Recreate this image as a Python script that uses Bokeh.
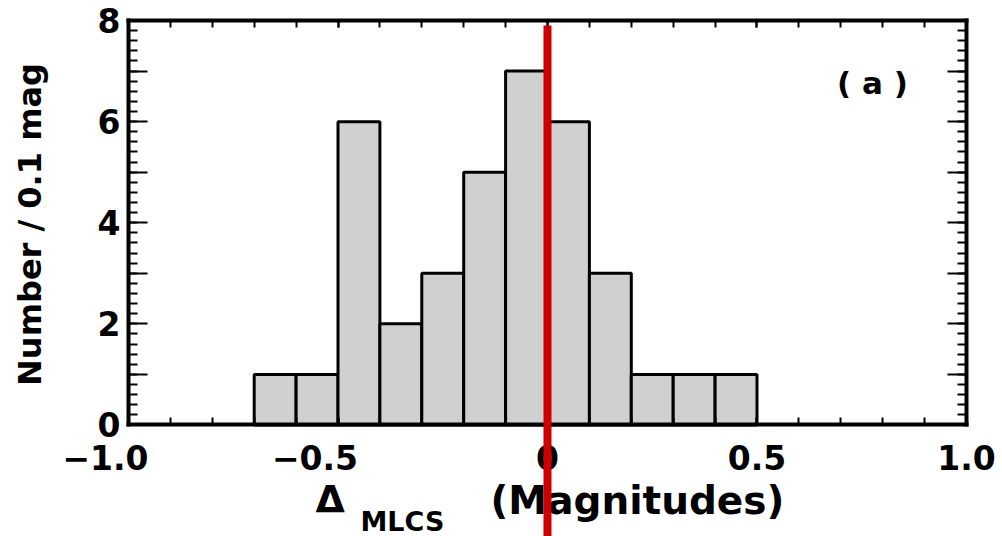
import math
from bokeh.plotting import figure
from bokeh.models import Range1d, LinearAxis, FixedTicker, Label
from bokeh.embed import file_html
from bokeh.resources import INLINE

# ---- data ----
bin_edges = [-0.7, -0.6, -0.5, -0.4, -0.3, -0.2, -0.1, 0.0, 0.1, 0.2, 0.3, 0.4, 0.5]
counts = [1, 1, 6, 2, 3, 5, 7, 6, 3, 1, 1, 1]
ref_x = 0.0

x_ticks = [-1.0, -0.5, 0.0, 0.5, 1.0]
x_tick_labels = ["\u22121.0\u2007\u2007", "\u22120.5\u2007\u2007", "0", "0.5", "1.0"]
y_ticks = [0, 1, 2, 3, 4, 5, 6, 7, 8]
y_tick_labels = ["0", "", "2", "", "4", "", "6", "", "8"]
y_title = "Number / 0.1 mag"
x_title_sym = "\u0394"
x_title_sub = "MLCS"
x_title_rest = "(Magnitudes)"
panel_label = "( a )"

x_lo, x_hi = -1.0, 1.0
y_lo, y_hi = 0, 8
x_minor = [round(-1.0 + 0.1 * i, 2) for i in range(21)]
y_minor = [round(0.2 * i, 2) for i in range(41)]

FONT = "DejaVu Sans"

# The frame covers the whole canvas; the axes sit at fixed data locations so that
# the red reference line and the axis title can run below the x axis.
p = figure(width=1002, height=536,
           x_range=Range1d(-1.30549, 1.08592), y_range=Range1d(-2.2053, 8.3956),
           output_backend="svg", toolbar_location=None,
           x_axis_location=None, y_axis_location=None,
           min_border_left=0, min_border_right=0, min_border_top=0, min_border_bottom=0)
p.background_fill_color = "white"
p.border_fill_color = "white"
p.outline_line_color = None
p.xgrid.visible = False
p.ygrid.visible = False

p.quad(left=bin_edges[:-1], right=bin_edges[1:], bottom=0, top=counts,
       fill_color="#d0d0d0", line_color="black", line_width=3)


def style(ax, major_in, minor_in, labels=True):
    ax.axis_line_color = "black"
    ax.axis_line_width = 4
    ax.axis_line_cap = "square"
    ax.major_tick_in = major_in
    ax.major_tick_out = 0
    ax.minor_tick_in = minor_in
    ax.minor_tick_out = 0
    ax.major_tick_line_width = 2
    ax.minor_tick_line_width = 2
    ax.major_tick_line_color = "black"
    ax.minor_tick_line_color = "black"
    if labels:
        ax.major_label_text_font = FONT
        ax.major_label_text_font_style = "bold"
        ax.major_label_text_font_size = "33px"
        ax.major_label_text_color = "black"
    else:
        ax.major_label_text_font_size = "1px"
        ax.major_label_text_color = None
        ax.major_label_standoff = 0


xa = LinearAxis(ticker=FixedTicker(ticks=x_ticks, minor_ticks=x_minor),
                fixed_location=y_lo, bounds=(x_lo, x_hi))
xa.major_label_overrides = {v: s for v, s in zip(x_ticks, x_tick_labels)}
style(xa, 7, 7)
xa.major_label_standoff = 14
p.add_layout(xa, "below")

ya = LinearAxis(ticker=FixedTicker(ticks=y_ticks, minor_ticks=y_minor),
                fixed_location=x_lo, bounds=(y_lo, y_hi))
ya.major_label_overrides = {v: s for v, s in zip(y_ticks, y_tick_labels)}
style(ya, 19, 9)
ya.major_label_standoff = 8
p.add_layout(ya, "left")

top_ax = LinearAxis(ticker=FixedTicker(ticks=x_ticks, minor_ticks=x_minor),
                    fixed_location=y_hi, bounds=(x_lo, x_hi))
style(top_ax, 7, 7, labels=False)
p.add_layout(top_ax, "above")

right_ax = LinearAxis(ticker=FixedTicker(ticks=y_ticks, minor_ticks=y_minor),
                      fixed_location=x_hi, bounds=(y_lo, y_hi))
style(right_ax, 19, 9, labels=False)
p.add_layout(right_ax, "right")

# y-axis title
p.add_layout(Label(x=-1.2339, y=3.966, text=y_title, angle=math.pi / 2,
                   text_font=FONT, text_font_style="bold", text_font_size="32px",
                   text_align="center", text_baseline="alphabetic", text_color="black"))

# x-axis title with subscript
p.add_layout(Label(x=-0.5537, y=-1.454, text=x_title_sym, text_font=FONT, text_font_style="bold",
                   text_font_size="38px", text_baseline="alphabetic", text_align="left",
                   text_color="black"))
p.add_layout(Label(x=-0.4463, y=-1.909, text=x_title_sub, text_font=FONT, text_font_style="bold",
                   text_font_size="27px", text_baseline="alphabetic", text_align="left",
                   text_color="black"))
p.add_layout(Label(x=-0.136, y=-1.493, text=x_title_rest, text_font=FONT, text_font_style="bold",
                   text_font_size="39px", text_baseline="alphabetic", text_align="left",
                   text_color="black"))

p.add_layout(Label(x=0.7757, y=6.755, text=panel_label, text_font=FONT, text_font_style="bold",
                   text_font_size="31px", text_baseline="alphabetic", text_align="center",
                   text_color="black"))

p.segment(x0=[ref_x], y0=[-2.3], x1=[ref_x], y1=[7.9],
          line_color="#cc0000", line_width=8, level="overlay")

open("out.html", "w").write(file_html(p, INLINE))
